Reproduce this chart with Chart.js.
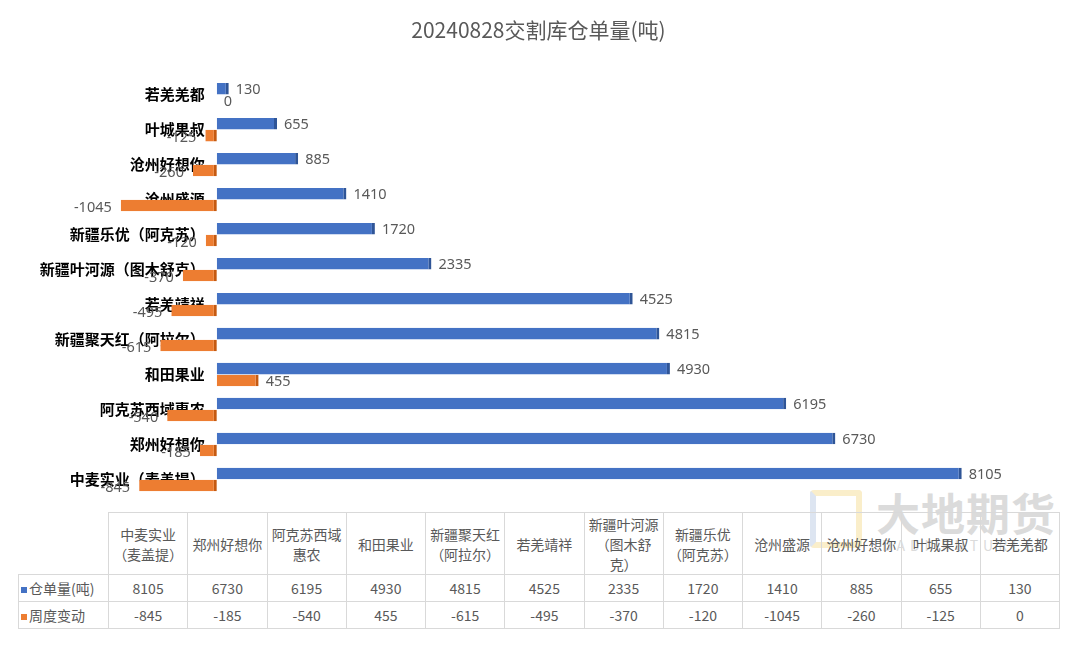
<!DOCTYPE html>
<html>
<head>
<meta charset="utf-8">
<script src="https://cdn.jsdelivr.net/npm/chart.js@4.4.1/dist/chart.umd.min.js"></script>
<style>
  body { margin: 0; background: #fff; font-family: "Noto Sans CJK SC", "Noto Sans", sans-serif; }
  #wrap { position: relative; width: 1080px; height: 648px; overflow: hidden; }
  #chartBox { position: absolute; left: 0; top: 0; width: 1080px; height: 510px; }
  #mark { position: absolute; left: 806px; top: 486px; width: 260px; height: 70px; opacity: 0.35; pointer-events: none; }
  #mark .logo { position: absolute; left: 4px; top: 4px; width: 40px; height: 46px; border: 6px solid #f2cf6b; border-left-color: #9fb7d8; border-radius: 4px; }
  #mark .cn { position: absolute; left: 70px; top: -4px; font-size: 44px; line-height: 60px; font-weight: bold; color: #9a9a9a; letter-spacing: 1px; }
  #mark .en { position: absolute; left: 76px; top: 50px; font-size: 14px; line-height: 18px; color: #9a9a9a; letter-spacing: 5px; white-space: nowrap; }
  table { position: absolute; left: 18px; top: 512px; width: 1042px; table-layout: fixed; border-collapse: collapse; color: #595959; font-size: 14px; }
  td { border: 1px solid #d9d9d9; text-align: center; padding: 0 1px; line-height: 20px; overflow: visible; }
  td.lab { text-align: left; padding-left: 2px; white-space: nowrap; }
  tr.head td { height: 61px; vertical-align: middle; }
  tr.head td.blank { border: none; }
  tr.val td { height: 26px; }
  .sw { display: inline-block; width: 6px; height: 6px; margin-right: 2px; vertical-align: middle; }
</style>
</head>
<body>
<div id="wrap">
  <div id="mark"><div class="logo"></div><div class="cn">大地期货</div><div class="en">DADI FUTURES</div></div>
  <div id="chartBox"><canvas id="stockChart"></canvas></div>
  <table id="dataTable"></table>
</div>
<script>
const companies = ['中麦实业（麦盖提）', '郑州好想你', '阿克苏西域惠农', '和田果业', '新疆聚天红（阿拉尔）', '若羌靖祥',
    '新疆叶河源（图木舒克）', '新疆乐优（阿克苏）', '沧州盛源', '沧州好想你', '叶城果叔', '若羌羌都'];
const warehouse = [8105, 6730, 6195, 4930, 4815, 4525, 2335, 1720, 1410, 885, 655, 130];
const weeklyChange = [-845, -185, -540, 455, -615, -495, -370, -120, -1045, -260, -125, 0];
const seriesNames = ['仓单量(吨)', '周度变动'];
const blue = '#4472C4', orange = '#ED7D31';

// data table under the chart
const table = document.getElementById('dataTable');
let html = '<colgroup><col style="width:90px">';
companies.forEach(() => { html += '<col>'; });
html += '</colgroup><tr class="head"><td class="blank"></td>';
companies.forEach(h => { html += '<td>' + h + '</td>'; });
html += '</tr>';
[[warehouse, blue], [weeklyChange, orange]].forEach((row, i) => {
    html += '<tr class="val"><td class="lab"><span class="sw" style="background:' + row[1] + '"></span>' + seriesNames[i] + '</td>';
    row[0].forEach(v => { html += '<td>' + v + '</td>'; });
    html += '</tr>';
});
table.innerHTML = html;

// value labels at the end of each bar
const valueLabels = {
    id: 'valueLabels',
    afterDatasetsDraw(chart) {
        const ctx = chart.ctx;
        ctx.save();
        ctx.font = '14.5px "Noto Sans", "DejaVu Sans", sans-serif';
        ctx.fillStyle = '#595959';
        ctx.textBaseline = 'middle';
        chart.data.datasets.forEach((ds, di) => {
            chart.getDatasetMeta(di).data.forEach((bar, i) => {
                const v = ds.data[i];
                if (v < 0) {
                    ctx.textAlign = 'right';
                    ctx.fillText(v, bar.x - 9, bar.y + 2);
                } else {
                    ctx.textAlign = 'left';
                    ctx.fillText(v, bar.x + 7, bar.y + 1);
                }
            });
        });
        ctx.restore();
    }
};

const ctx = document.getElementById('stockChart').getContext('2d');
const stockChart = new Chart(ctx, {
    type: 'bar',
    data: {
        labels: companies,
        datasets: [{
            label: seriesNames[0],
            data: warehouse,
            backgroundColor: blue,
            borderColor: '#2F5597',
            borderWidth: { right: 3, left: 0, top: 0, bottom: 0 },
            borderSkipped: false,
            categoryPercentage: 0.68,
            barPercentage: 0.97
        }, {
            label: seriesNames[1],
            data: weeklyChange,
            backgroundColor: orange,
            borderColor: '#C55A11',
            borderWidth: { right: 3, left: 0, top: 0, bottom: 0 },
            borderSkipped: false,
            categoryPercentage: 0.68,
            barPercentage: 0.97
        }]
    },
    options: {
        indexAxis: 'y',
        responsive: true,
        maintainAspectRatio: false,
        animation: false,
        layout: { padding: { top: 8, left: 33, right: 36, bottom: 13 } },
        scales: {
            x: { display: false, min: -2000, max: 9000 },
            y: {
                reverse: true,
                // labels end just left of the zero line
                position: { x: -130 },
                z: 1,
                grid: { display: false },
                border: { display: false },
                ticks: {
                    color: '#000',
                    padding: 0,
                    font: { size: 15, weight: 'bold', family: '"Noto Sans CJK SC", sans-serif' }
                }
            }
        },
        plugins: {
            legend: { display: false },
            tooltip: { enabled: false },
            title: {
                display: true,
                text: '20240828交割库仓单量(吨)',
                color: '#595959',
                font: { size: 21, weight: 'normal', family: '"Noto Sans CJK SC", sans-serif' },
                padding: { top: 9, bottom: 35 }
            }
        }
    },
    plugins: [valueLabels]
});
</script>
</body>
</html>
